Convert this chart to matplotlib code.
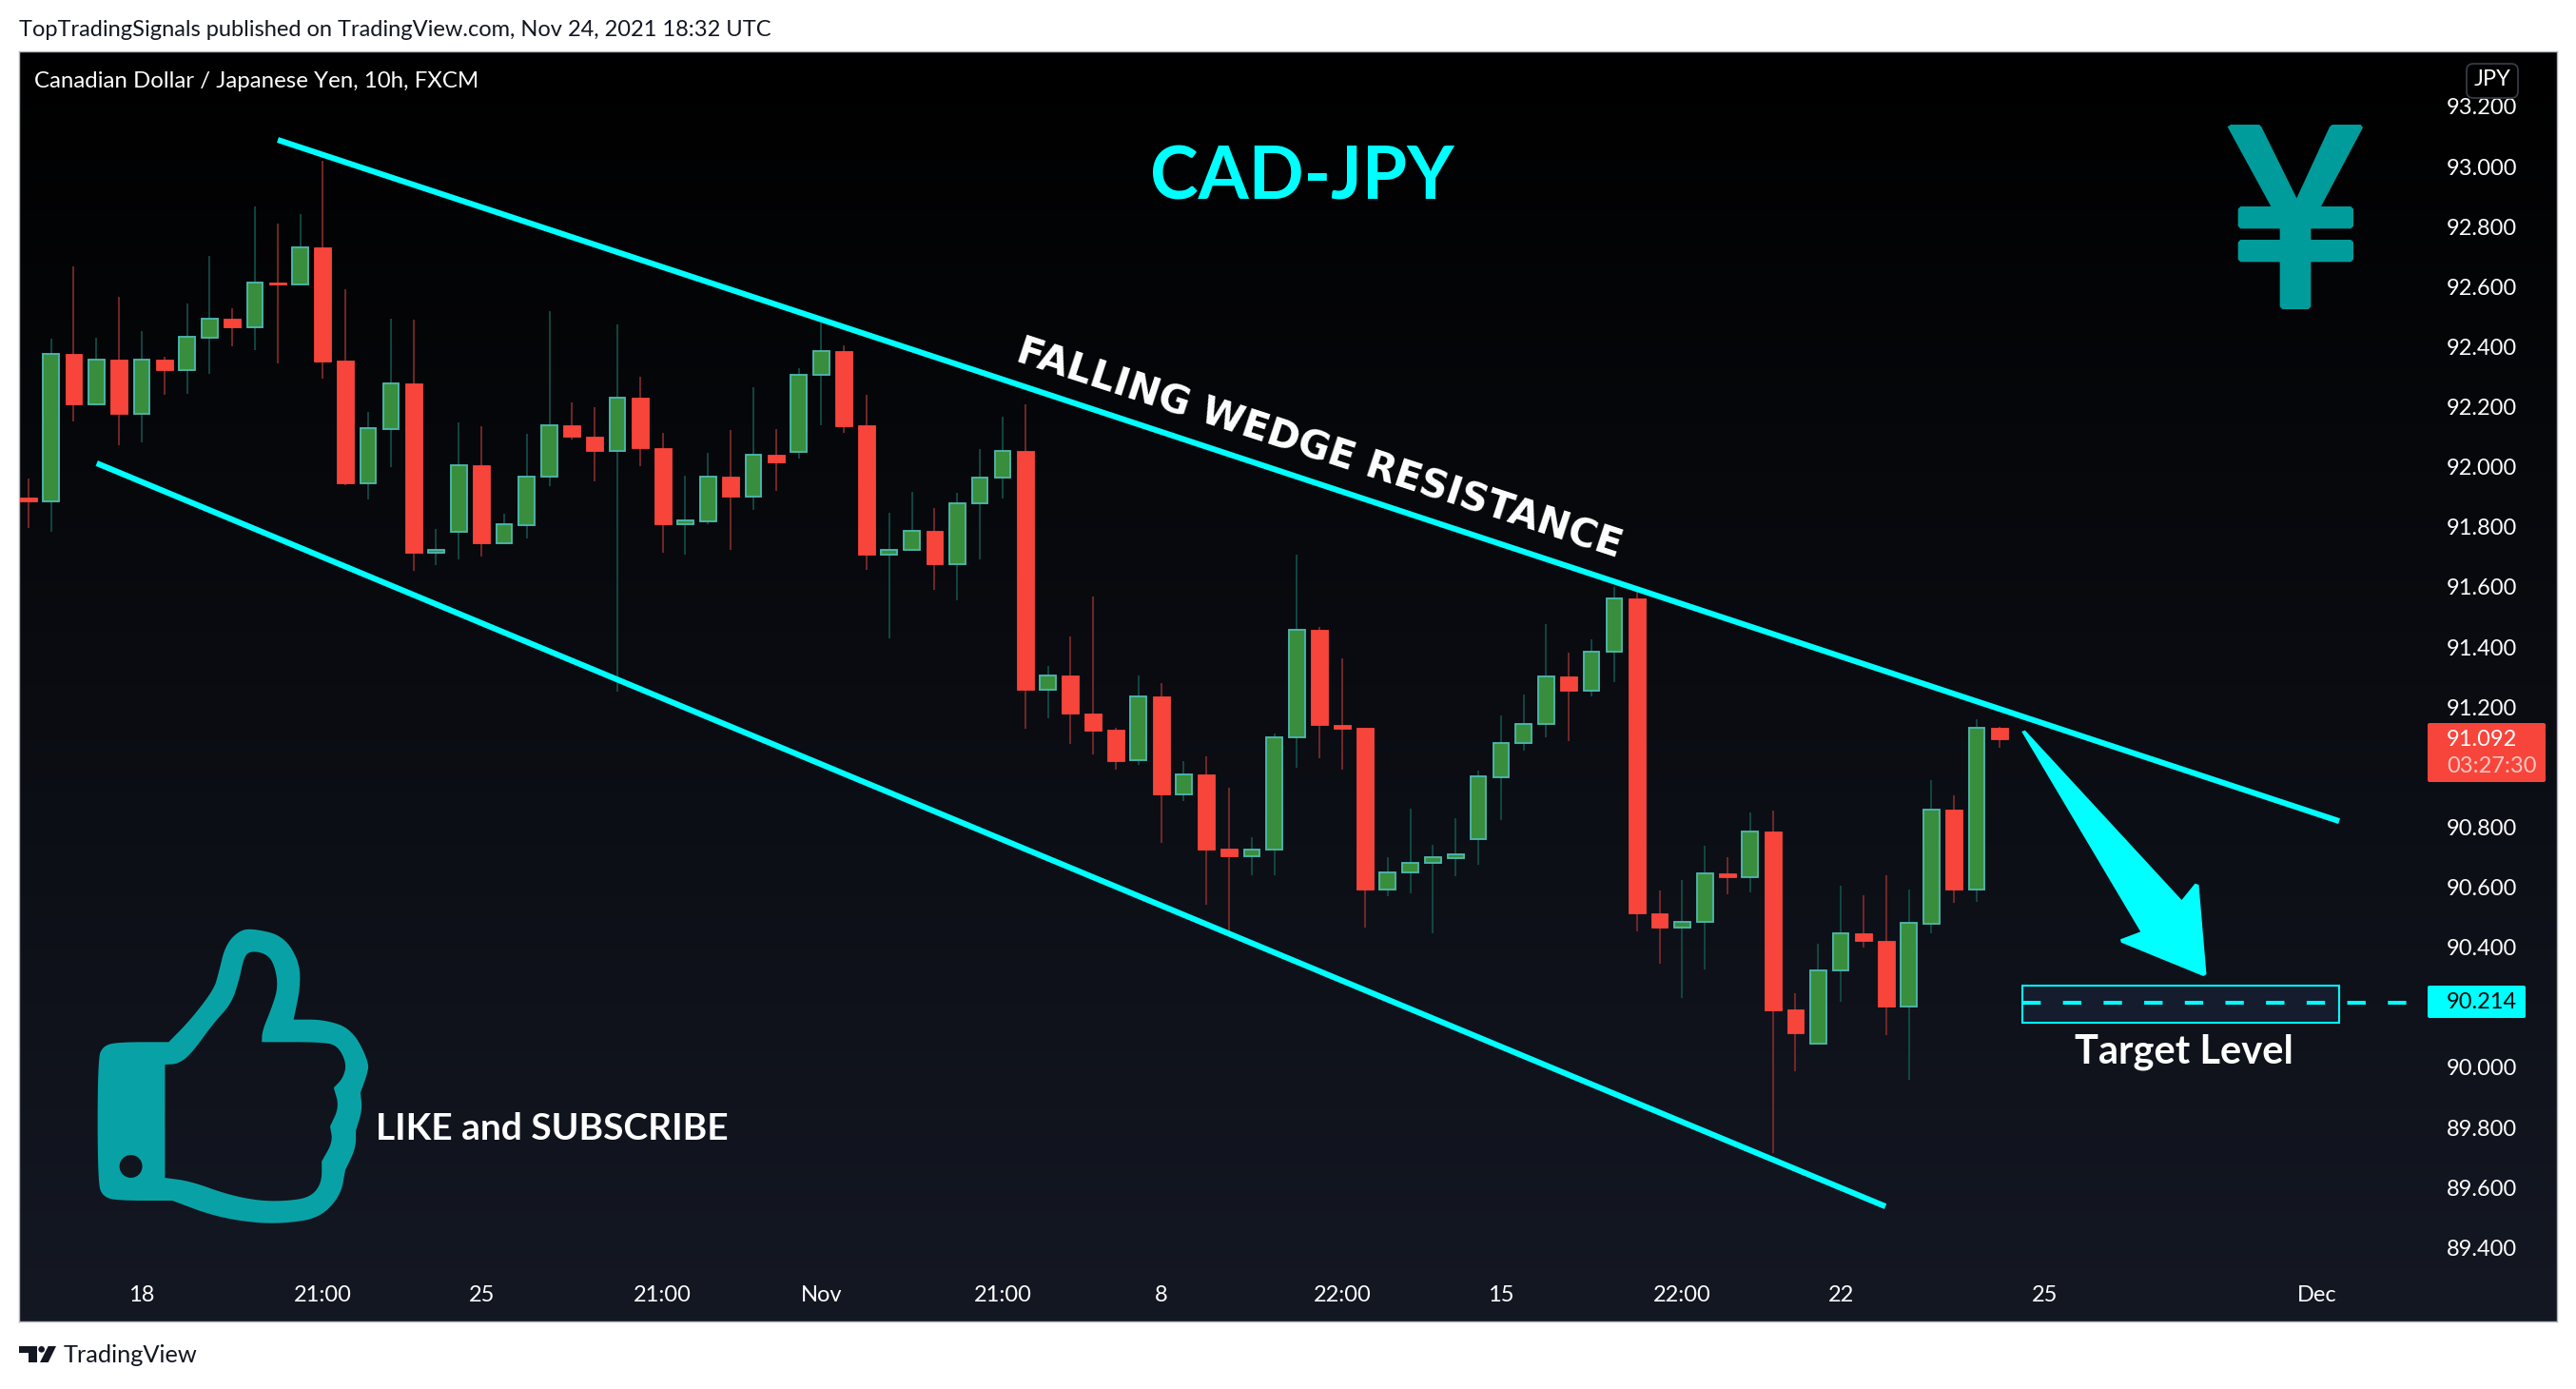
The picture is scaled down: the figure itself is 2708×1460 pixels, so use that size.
import numpy as np
import matplotlib
matplotlib.use("Agg")
import matplotlib.pyplot as plt
from matplotlib.path import Path
from matplotlib.patches import PathPatch, Polygon, FancyBboxPatch, Rectangle, Circle

# ---------- data ----------
opens = [91.897,91.886,92.375,92.207,92.356,92.176,92.356,92.323,92.431,92.493,92.466,92.614,92.609,92.730,92.355,91.946,92.127,92.277,91.715,91.783,92.004,91.747,91.806,91.969,92.137,92.099,92.054,92.232,92.061,91.809,91.819,91.967,91.900,92.039,92.050,92.308,92.387,92.137,91.709,91.722,91.786,91.677,91.880,91.963,92.052,91.259,91.305,91.177,91.124,91.024,91.235,90.910,90.977,90.728,90.702,90.724,91.098,91.456,91.140,91.131,90.593,90.648,90.682,90.698,90.760,90.967,91.080,91.145,91.301,91.255,91.383,91.563,90.514,90.464,90.486,90.646,90.634,90.787,90.192,90.080,90.322,90.446,90.422,90.204,90.479,90.857,90.591,91.130]
highs = [91.960,92.427,92.667,92.430,92.567,92.453,92.367,92.544,92.703,92.528,92.866,92.810,92.842,93.019,92.591,92.182,92.494,92.490,91.793,92.148,92.135,91.843,92.110,92.518,92.215,92.198,92.475,92.300,92.113,91.971,92.047,92.123,92.266,92.126,92.329,92.482,92.405,92.240,91.846,91.916,91.863,91.914,92.060,92.167,92.209,91.337,91.435,91.568,91.131,91.306,91.280,91.020,91.036,90.931,90.767,91.112,91.708,91.466,91.363,91.131,90.700,90.862,90.741,90.830,90.988,91.173,91.242,91.477,91.382,91.426,91.599,91.586,90.589,90.624,90.738,90.700,90.849,90.856,90.247,90.412,90.605,90.574,90.640,90.592,90.957,90.906,91.160,91.134]
lows = [91.797,91.785,92.152,92.207,92.073,92.082,92.241,92.244,92.311,92.403,92.388,92.346,92.606,92.294,91.939,91.891,92.000,91.655,91.673,91.692,91.702,91.741,91.763,91.937,92.091,91.950,91.252,92.003,91.715,91.709,91.808,91.725,91.857,91.920,92.028,92.139,92.112,91.658,91.430,91.721,91.589,91.557,91.693,91.896,91.129,91.164,91.078,91.041,90.990,91.006,90.746,90.886,90.540,90.450,90.641,90.641,90.999,91.030,90.992,90.466,90.569,90.580,90.448,90.638,90.676,90.825,91.056,91.100,91.087,91.237,91.283,90.454,90.344,90.232,90.327,90.575,90.584,89.716,89.988,90.080,90.219,90.400,90.108,89.959,90.448,90.547,90.552,91.065]
closes = [91.885,92.375,92.207,92.356,92.176,92.356,92.323,92.432,92.493,92.465,92.613,92.609,92.730,92.352,91.945,92.128,92.277,91.715,91.722,92.004,91.747,91.808,91.969,92.137,92.099,92.054,92.232,92.061,91.810,91.822,91.967,91.900,92.039,92.016,92.308,92.387,92.136,91.709,91.722,91.786,91.677,91.880,91.963,92.052,91.259,91.305,91.177,91.122,91.019,91.235,90.910,90.977,90.726,90.702,90.724,91.098,91.456,91.139,91.127,90.593,90.648,90.682,90.699,90.711,90.968,91.080,91.145,91.301,91.255,91.383,91.563,90.514,90.464,90.486,90.645,90.633,90.787,90.191,90.115,90.322,90.446,90.422,90.204,90.481,90.857,90.591,91.130,91.092]
price_ticks = [93.2,93.0,92.8,92.6,92.4,92.2,92.0,91.8,91.6,91.4,91.2,90.8,90.6,90.4,90.0,89.8,89.6,89.4]
time_positions = [5,13,20,28,35,43,50,58,65,73,80,89,101]
time_labels = ["18","21:00","25","21:00","Nov","21:00","8","22:00","15","22:00","22","25","Dec"]
upper_line_x, upper_line_y = [11.01,102.0], [93.089,90.820]
lower_line_x, lower_line_y = [3.02,81.97], [92.012,89.537]
target_price = 90.214
target_box_x, target_box_y = [88.0,102.0], [90.150,90.272]
last_price = "91.092"
countdown = "03:27:30"

# ---------- constants ----------
W, H = 2708, 1460
CY = "#00FFFF"
FONT = "Lato"
GB, GE, GW = "#388E3C", "#4DB6AC", "#134E48"
RB, RW = "#F7453B", "#802B2B"

fig = plt.figure(figsize=(W/100, H/100), dpi=100, facecolor="white")
L, R, T, B = 20, 2688, 54, 1389
ax = fig.add_axes([L/W, 1-B/H, (R-L)/W, (B-T)/H])
ax.set_xlim((L-29.8)/23.816, (R-29.8)/23.816)
ax.set_ylim(93.2-(B-112)/315.6, 93.2+(112-T)/315.6)

# gradient pane background
top, bot = np.array([0,0,0])/255, np.array([20,24,35])/255
g = np.linspace(0,1,256)[:,None,None]*(bot-top)+top
ax.imshow(g.reshape(256,1,3), extent=[*ax.get_xlim(), ax.get_ylim()[0], ax.get_ylim()[1]],
          aspect="auto", origin="upper", zorder=0)

# candles
o, h, l, c = map(np.array, (opens, highs, lows, closes))
x = np.arange(len(o))
up = c >= o
ax.vlines(x[up], l[up], h[up], color=GW, lw=1.25, zorder=2)
ax.vlines(x[~up], l[~up], h[~up], color=RW, lw=1.25, zorder=2)
ax.bar(x[up], (c-o)[up], bottom=o[up], width=0.70, color=GB, edgecolor=GE, linewidth=1.35, zorder=3)
ax.bar(x[~up], (c-o)[~up], bottom=o[~up], width=0.75, color=RB, edgecolor=RB, linewidth=0.6, zorder=3)

# drawn lines
ax.plot(upper_line_x, upper_line_y, color=CY, lw=4.4, solid_capstyle="butt", zorder=5)
ax.plot(lower_line_x, lower_line_y, color=CY, lw=4.4, solid_capstyle="butt", zorder=5)
ax.add_patch(Rectangle((target_box_x[0], target_box_y[0]), target_box_x[1]-target_box_x[0],
                       target_box_y[1]-target_box_y[0], fc="#141C2E", ec=CY, lw=1.5, zorder=4))
ax.plot([target_box_x[0], 105.5], [target_price]*2, color=CY, lw=2.9,
        dashes=(4.8, 5.8), dash_capstyle="butt", zorder=5)

# axes
ax.yaxis.tick_right()
ax.set_yticks(price_ticks)
ax.set_yticklabels([f"{p:.3f}" for p in price_ticks], color="white", fontsize=17, family=FONT)
ax.tick_params(axis="y", length=0, pad=-83.5)
for t in ax.get_yticklabels():
    t.set_ha("left")
ax.set_xticks(time_positions)
ax.set_xticklabels(time_labels, color="white", fontsize=17, family=FONT)
ax.tick_params(axis="x", length=0, pad=-27)
for s in ax.spines.values():
    s.set_color("#B2B5BE"); s.set_linewidth(1.0)

# overlay in pixel coordinates
ov = fig.add_axes([0,0,1,1], facecolor="none")
ov.set_xlim(0,W); ov.set_ylim(H,0); ov.axis("off")

def chaikin(pts, n=3):
    p = np.asarray(pts, float)
    for _ in range(n):
        q = np.roll(p,-1,axis=0)
        a = 0.75*p+0.25*q; b = 0.25*p+0.75*q
        p = np.empty((2*len(a),2)); p[0::2]=a; p[1::2]=b
    return p

def area(p):
    return 0.5*np.sum(p[:,0]*np.roll(p[:,1],-1)-np.roll(p[:,0],-1)*p[:,1])

def thumb_px(pts):
    a = np.asarray(pts,float)
    return np.c_[60+a[:,0]/2.063, 950+a[:,1]/3]

# thumb icon
outer = [(135,936),(100,925),(88,880),(88,490),(100,447),(135,436),(242,436),(242,436),(290,365),(340,270),(350,220),(365,130),(395,84),(425,78),(490,100),(525,180),(528,260),(513,365),(513,365),(580,365),(640,395),(677,500),(672,540),(658,595),(658,595),(662,650),(648,715),(648,715),(648,770),(625,840),(625,840),(615,920),(570,990),(500,1007),(430,1007),(340,985),(250,936),(250,936)]
inner = [(234,507),(234,507),(262,505),(290,475),(340,375),(378,315),(395,240),(405,170),(418,149),(450,155),(470,185),(480,260),(465,330),(445,400),(444,436),(444,436),(580,436),(610,450),(628,505),(620,550),(600,580),(600,580),(612,640),(592,702),(592,702),(598,750),(574,812),(574,812),(574,880),(550,925),(500,937),(440,937),(370,917),(290,875),(234,864),(234,864)]
po = thumb_px(chaikin(outer)); pi_ = thumb_px(chaikin(inner))
if area(po)*area(pi_) > 0: pi_ = pi_[::-1]
th = np.linspace(0,2*np.pi,40)
hole = np.c_[137.6+12*np.cos(th), 1226+12*np.sin(th)]
if area(po)*area(hole) > 0: hole = hole[::-1]
verts, codes = [], []
for p in (po, pi_, hole):
    verts += [*p, p[0]]
    codes += [Path.MOVETO]+[Path.LINETO]*(len(p)-1)+[Path.CLOSEPOLY]
ov.add_patch(PathPatch(Path(verts,codes), fc="#08A2A6", ec="none"))

# yen icon
yen = [(125,250),(135,243),(225,243),(232,250),(343,475),(447,250),(455,243),(545,243),(552,252),(420,501),(514,501),(522,509),(522,563),(514,571),(388,571),(388,606),(514,606),(522,614),(522,668),(514,676),(388,676),(388,817),(380,825),(298,825),(290,817),(290,676),(166,676),(158,668),(158,614),(166,606),(290,606),(290,571),(166,571),(158,563),(158,509),(166,501),(262,501)]
yp = np.array(yen,float)/3+[2300,50]
ov.add_patch(Polygon(yp, closed=True, fc="#009C9C", ec="none"))

# arrow
arr = [(113,207),(122,203),(533,738),(568,686),(578,690),(598,972),(590,978),(374,872),(372,862),(425,838)]
ap = np.array(arr,float)/[2.497,3]+[2080,700]
ov.add_patch(Polygon(ap, closed=True, fc=CY, ec="none"))

# price labels
ov.add_patch(FancyBboxPatch((2552,760),124,62,boxstyle="round,pad=0,rounding_size=2",fc=RB,ec="none"))
ov.add_patch(FancyBboxPatch((2552,1036),103,34,boxstyle="round,pad=0,rounding_size=2",fc=CY,ec="none"))
ov.text(2572,778,last_price,color="white",fontsize=17,family=FONT,va="center",ha="left")
ov.text(2572,806,countdown,color="#FCC7C3",fontsize=17,family=FONT,va="center",ha="left")
ov.text(2572,1053.5,f"{target_price:.3f}",color="#0A0A0A",fontsize=17,family=FONT,va="center",ha="left")

# JPY button
ov.add_patch(FancyBboxPatch((2593,67),54,36,boxstyle="round,pad=0,rounding_size=7",fc="none",ec="#363A45",lw=1.3))
ov.text(2620,84,"JPY",color="white",fontsize=17,family=FONT,ha="center",va="center")

# texts
ov.text(20,32,"TopTradingSignals published on TradingView.com, Nov 24, 2021 18:32 UTC",
        color="#131722",fontsize=17,family=FONT,va="center",ha="left")
ov.text(36,85,"Canadian Dollar / Japanese Yen, 10h, FXCM",color="white",fontsize=17.3,family=FONT,va="center",ha="left")
ov.text(1369,188,"CAD-JPY",color=CY,fontsize=55,family=FONT,weight="bold",ha="center",va="center")
ov.text(1387,473,"FALLING WEDGE RESISTANCE",color="white",fontsize=29.3,family="DejaVu Sans",weight="bold",
        rotation=-18.1,rotation_mode="anchor",ha="center",va="center")
ov.text(2296,1106,"Target Level",color="white",fontsize=30,family=FONT,weight="bold",ha="center",va="center")
ov.text(395,1186,"LIKE and SUBSCRIBE",color="white",fontsize=28,family=FONT,weight="bold",ha="left",va="center")

# TradingView logo
logo_t = [(30,60),(88,60),(88,111),(60,111),(60,82),(30,82)]
logo_s = [(122,60),(147,60),(122,111),(96,111)]
ov.add_patch(Polygon(np.array(logo_t,float)/3+[10,1395],fc="#131722",ec="none"))
ov.add_patch(Polygon(np.array(logo_s,float)/3+[10,1395],fc="#131722",ec="none"))
ov.add_patch(Circle((10+101/3,1395+70/3),10/3,fc="#131722",ec="none"))
ov.text(67,1425,"TradingView",color="#131722",fontsize=18.3,family=FONT,va="center",ha="left")

fig.savefig("out.png",dpi=100,facecolor="white")
